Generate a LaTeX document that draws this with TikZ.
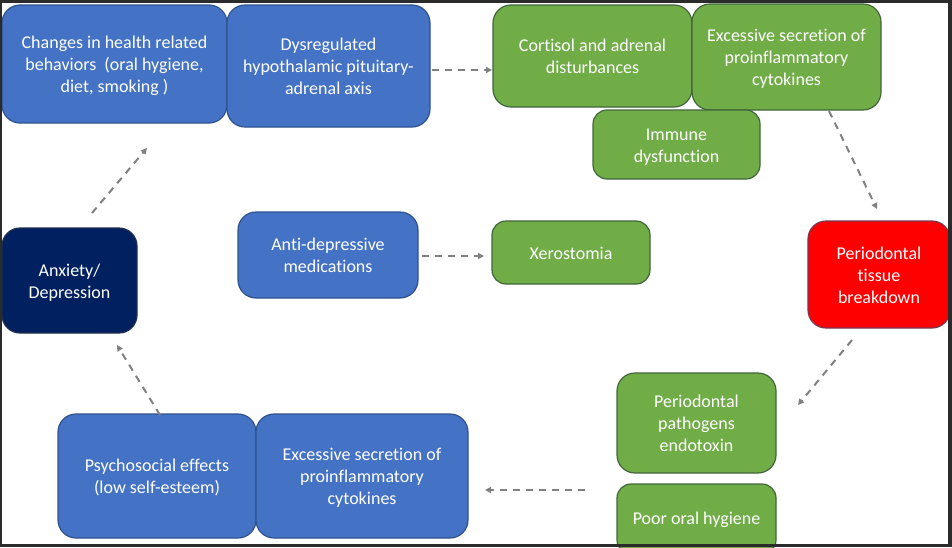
\documentclass[tikz,border=0pt]{standalone}
\usepackage{fontspec}
\setmainfont{Carlito}[Ligatures=NoCommon]
\usetikzlibrary{arrows.meta}
\definecolor{bblue}{HTML}{4472C4}
\definecolor{bblueline}{HTML}{2F528F}
\definecolor{bgreen}{HTML}{70AD47}
\definecolor{bgreenline}{HTML}{41663A}
\definecolor{bred}{HTML}{FF0000}
\definecolor{bredline}{HTML}{7A3550}
\definecolor{bnavy}{HTML}{002060}
\definecolor{bnavyline}{HTML}{1F3050}
\definecolor{arrgray}{HTML}{808080}
\definecolor{framec}{HTML}{2B2B2B}
\newcommand\boxtext[1]{\raisebox{-2.5pt}[\height][\depth]{\begin{tabular}{@{}c@{}}#1\end{tabular}}}
\tikzset{
  boxbase/.style={rectangle, rounded corners=18pt, line width=1.2pt, inner sep=0pt,
    text=white, font=\fontsize{18}{22}\selectfont},
  bluebox/.style={boxbase, fill=bblue, draw=bblueline},
  greenbox/.style={boxbase, fill=bgreen, draw=bgreenline},
  redbox/.style={boxbase, fill=bred, draw=bredline},
  navybox/.style={boxbase, fill=bnavy, draw=bnavyline},
  arr/.style={draw=arrgray, line width=2pt, dash pattern=on 7pt off 6pt,
    -{Triangle[length=6pt,width=6pt]}}
}
\begin{document}
\begin{tikzpicture}[x=1pt,y=-1pt]
\useasboundingbox (0,0) rectangle (952,547);
\fill[white] (0,0) rectangle (952,547);
% boxes
\node[bluebox, minimum width=225pt, minimum height=118pt] (chg) at (114.5,64)
  {\boxtext{Changes in health related\\behaviors\ \ (oral hygiene,\\diet, smoking )}};
\node[bluebox, minimum width=203pt, minimum height=122pt] (dys) at (328.5,66)
  {\boxtext{Dysregulated\\hypothalamic pituitary-\\adrenal axis}};
\node[greenbox, minimum width=199pt, minimum height=102pt] (cort) at (592.5,56)
  {\boxtext{Cortisol and adrenal\\disturbances}};
\node[greenbox, minimum width=189pt, minimum height=106pt] (exc1) at (786.5,57)
  {\boxtext{Excessive secretion of\\proinflammatory\\cytokines}};
\node[greenbox, rounded corners=14pt, minimum width=167pt, minimum height=69pt] (imm) at (676.5,144.5)
  {\boxtext{Immune\\dysfunction}};
\node[navybox, minimum width=135pt, minimum height=105pt] (anx) at (69.5,280.5)
  {\boxtext{Anxiety/\\Depression}};
\node[bluebox, minimum width=180pt, minimum height=86pt] (anti) at (328,255)
  {\boxtext{Anti-depressive\\medications}};
\node[greenbox, rounded corners=14pt, minimum width=158pt, minimum height=63pt] (xero) at (571,252.5)
  {\boxtext{Xerostomia}};
\node[redbox, minimum width=142pt, minimum height=107pt] (perio) at (879,274.5)
  {\boxtext{Periodontal\\tissue\\breakdown}};
\node[greenbox, minimum width=159pt, minimum height=100pt] (path) at (696.5,423)
  {\boxtext{Periodontal\\pathogens\\endotoxin}};
\node[greenbox, rounded corners=14pt, minimum width=159pt, minimum height=70pt] (poor) at (696.5,519)
  {\raisebox{-0.5pt}[\height][\depth]{Poor oral hygiene}};
\node[bluebox, minimum width=198pt, minimum height=124pt] (psy) at (157,476)
  {\boxtext{Psychosocial effects\\(low self-esteem)}};
\node[bluebox, minimum width=212pt, minimum height=124pt] (exc2) at (362,476)
  {\boxtext{Excessive secretion of\\proinflammatory\\cytokines}};
% connector end points
\coordinate (a1s) at (432,70);   \coordinate (a1e) at (492,70);
\coordinate (a2s) at (829,111);  \coordinate (a2e) at (877,209);
\coordinate (a3s) at (852,340);  \coordinate (a3e) at (798,405);
\coordinate (a4s) at (585,490);  \coordinate (a4e) at (485,490);
\coordinate (a5s) at (160,415);  \coordinate (a5e) at (117,345);
\coordinate (a6s) at (92,213);   \coordinate (a6e) at (147,148);
\coordinate (a7s) at (422,256);  \coordinate (a7e) at (484,256);
\draw[arr] (a1s) -- (a1e);
\draw[arr] (a2s) -- (a2e);
\draw[arr] (a3s) -- (a3e);
\draw[arr] (a4s) -- (a4e);
\draw[arr] (a5s) -- (a5e);
\draw[arr] (a6s) -- (a6e);
\draw[arr] (a7s) -- (a7e);
% frame
\fill[framec] (0,0) rectangle (952,3);
\fill[framec] (0,0) rectangle (2,547);
\fill[framec] (948,0) rectangle (952,547);
\fill[framec] (0,544) rectangle (952,547);
\end{tikzpicture}
\end{document}
